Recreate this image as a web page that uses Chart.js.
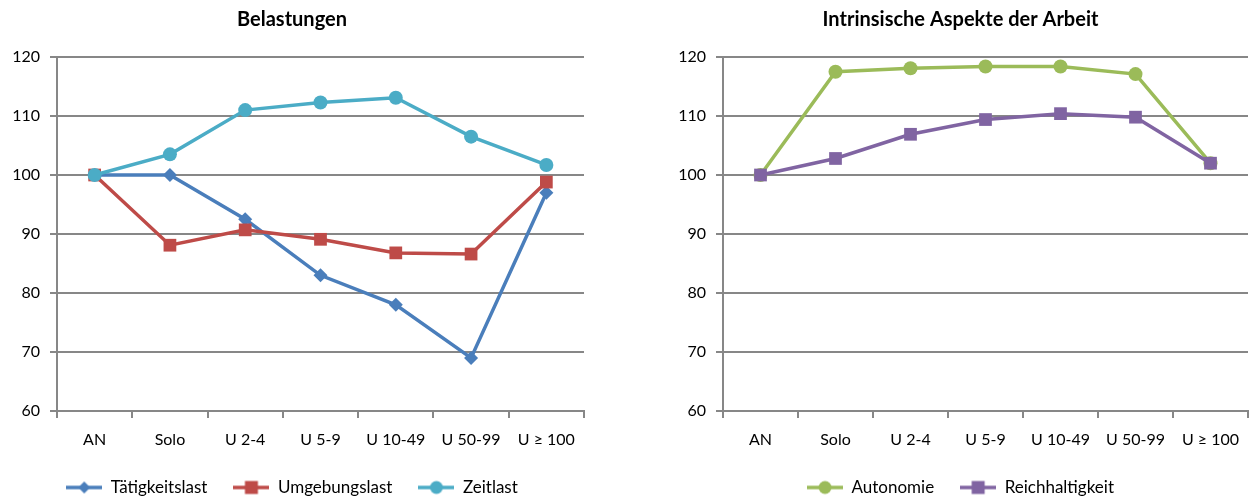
<!DOCTYPE html>
<html>
<head>
<meta charset="utf-8">
<script src="https://cdn.jsdelivr.net/npm/chart.js@4/dist/chart.umd.min.js"></script>
<style>
  html, body { margin: 0; padding: 0; background: #fff; }
  body { width: 1257px; height: 500px; position: relative; overflow: hidden; }
  .box { position: absolute; top: 0; height: 500px; }
  #b1 { left: 0; width: 604px; }
  #b2 { left: 670px; width: 587px; }
</style>
</head>
<body>
<div class="box" id="b1"><canvas id="c1"></canvas></div>
<div class="box" id="b2"><canvas id="c2"></canvas></div>
<script>
const categories = ['AN', 'Solo', 'U 2-4', 'U 5-9', 'U 10-49', 'U 50-99', 'U \u2265 100'];
const yTicks = [60, 70, 80, 90, 100, 110, 120];

const taetigkeitslast = [100, 100, 92.5, 83.0, 78.0, 69.0, 97.0];
const umgebungslast   = [100, 88.1, 90.7, 89.1, 86.8, 86.6, 98.8];
const zeitlast        = [100, 103.5, 111.0, 112.3, 113.1, 106.5, 101.7];

const autonomie       = [100, 117.5, 118.1, 118.4, 118.4, 117.1, 102.0];
const reichhaltigkeit = [100, 102.8, 106.9, 109.4, 110.4, 109.8, 102.0];

const FONT = 'Lato, "Liberation Sans", sans-serif';
const GRID = '#878787';
const LEG_W = 36;

function legendImage(color, style, r) {
  const c = document.createElement('canvas');
  c.width = LEG_W; c.height = 16;
  const g = c.getContext('2d');
  g.strokeStyle = color; g.fillStyle = color; g.lineWidth = 3.5;
  g.beginPath(); g.moveTo(0, 8); g.lineTo(LEG_W, 8); g.stroke();
  g.beginPath();
  const m = LEG_W / 2;
  if (style === 'circle') { g.arc(m, 8, r, 0, Math.PI * 2); }
  else if (style === 'rect') { g.rect(m - r, 8 - r, 2 * r, 2 * r); }
  else { g.moveTo(m, 8 - r); g.lineTo(m + r, 8); g.lineTo(m, 8 + r); g.lineTo(m - r, 8); g.closePath(); }
  g.fill();
  return c;
}

function ds(label, data, color, style, radius, legR, order) {
  return {
    label, data, order,
    borderColor: color, backgroundColor: color,
    pointBackgroundColor: color, pointBorderColor: color,
    borderWidth: 3.5, pointStyle: style, pointRadius: radius, pointHoverRadius: radius,
    pointBorderWidth: 0, tension: 0,
    legendImg: legendImage(color, style === 'rectRot' ? 'diamond' : style, legR)
  };
}

function makeChart(id, title, datasets, yAxisWidth, rightPad) {
  return new Chart(document.getElementById(id), {
    type: 'line',
    data: { labels: categories, datasets },
    options: {
      responsive: true, maintainAspectRatio: false, animation: false,
      layout: { padding: { left: 0, right: rightPad, top: 0, bottom: -6 } },
      plugins: {
        title: {
          display: true, text: title, color: '#000',
          font: { family: FONT, size: 20, weight: 'bold', lineHeight: 1.2 },
          padding: { top: 8, bottom: 25 }
        },
        legend: {
          position: 'bottom',
          labels: {
            usePointStyle: true, pointStyleWidth: LEG_W,
            color: '#000', padding: 26,
            font: { family: FONT, size: 17 },
            generateLabels(chart) {
              return chart.data.datasets.map((d, i) => ({
                text: d.label, fillStyle: d.borderColor, strokeStyle: d.borderColor,
                lineWidth: 0, pointStyle: d.legendImg, hidden: false, datasetIndex: i,
                fontColor: '#000'
              }));
            }
          }
        },
        tooltip: { enabled: false }
      },
      scales: {
        x: {
          type: 'category', offset: true,
          grid: { offset: true, drawOnChartArea: false, drawTicks: true, tickLength: 7, color: GRID, lineWidth: 2 },
          border: { color: GRID, width: 2 },
          ticks: { color: '#000', font: { family: FONT, size: 16 }, padding: 12, maxRotation: 0, autoSkip: false },
          afterFit(s) { s.height = 42; }
        },
        y: {
          min: 60, max: 120,
          afterBuildTicks(s) { s.ticks = yTicks.map(v => ({ value: v })); },
          grid: { color: GRID, lineWidth: 2, drawTicks: true, tickLength: 7 },
          border: { color: GRID, width: 2 },
          ticks: { color: '#000', font: { family: FONT, size: 16 }, padding: 10 },
          afterFit(s) { s.width = yAxisWidth; }
        }
      }
    }
  });
}

makeChart('c1', 'Belastungen', [
  ds('T\u00e4tigkeitslast', taetigkeitslast, '#4A7EBB', 'rectRot', 7, 6, 3),
  ds('Umgebungslast', umgebungslast, '#BE4B48', 'rect', 9, 6.5, 2),
  ds('Zeitlast', zeitlast, '#4BACC6', 'circle', 7, 6.5, 1)
], 57, 20);

makeChart('c2', 'Intrinsische Aspekte der Arbeit', [
  ds('Autonomie', autonomie, '#9BBB59', 'circle', 7, 6.5, 2),
  ds('Reichhaltigkeit', reichhaltigkeit, '#8064A2', 'rect', 9, 6.5, 1)
], 53, 6);
</script>
</body>
</html>
